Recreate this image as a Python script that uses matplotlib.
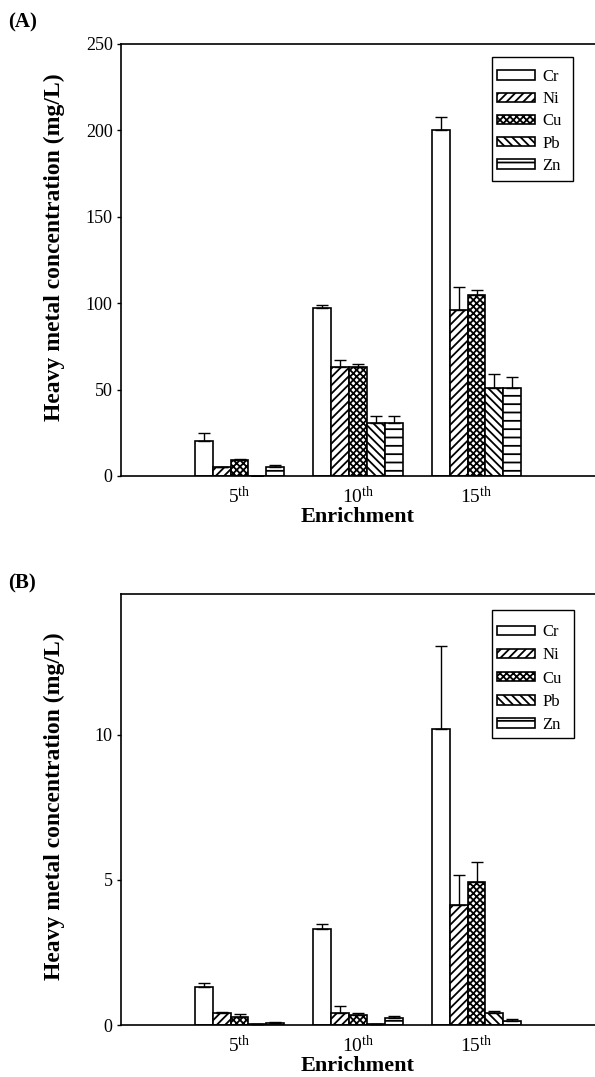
import matplotlib
matplotlib.use('Agg')
import matplotlib.pyplot as plt
from matplotlib.patches import Rectangle
import numpy as np

plt.rcParams['font.family'] = ['Liberation Serif', 'DejaVu Serif']
plt.rcParams['mathtext.fontset'] = 'custom'
plt.rcParams['mathtext.rm'] = 'Liberation Serif'
plt.rcParams['hatch.linewidth'] = 1.3

# ---------------- data ----------------
categories = ['5', '10', '15']          # enrichment number (superscript "th" added)
metals = ['Cr', 'Ni', 'Cu', 'Pb', 'Zn']

# Panel A
A_Cr = [20.5, 97.5, 200.0]
A_Ni = [5.0, 63.0, 96.0]
A_Cu = [9.5, 63.0, 105.0]
A_Pb = [0.0, 30.5, 51.0]
A_Zn = [5.0, 30.5, 51.0]
A_Cr_err = [4.5, 1.5, 8.0]
A_Ni_err = [0.0, 4.0, 13.5]
A_Cu_err = [0.5, 2.0, 2.5]
A_Pb_err = [0.0, 4.5, 8.0]
A_Zn_err = [1.5, 4.5, 6.5]

# Panel B
B_Cr = [1.32, 3.30, 10.2]
B_Ni = [0.41, 0.43, 4.15]
B_Cu = [0.29, 0.33, 4.92]
B_Pb = [0.02, 0.03, 0.41]
B_Zn = [0.07, 0.24, 0.14]
B_Cr_err = [0.14, 0.18, 2.85]
B_Ni_err = [0.04, 0.24, 1.02]
B_Cu_err = [0.08, 0.10, 0.70]
B_Pb_err = [0.0, 0.0, 0.07]
B_Zn_err = [0.02, 0.07, 0.06]

A_vals = [A_Cr, A_Ni, A_Cu, A_Pb, A_Zn]
A_errs = [A_Cr_err, A_Ni_err, A_Cu_err, A_Pb_err, A_Zn_err]
B_vals = [B_Cr, B_Ni, B_Cu, B_Pb, B_Zn]
B_errs = [B_Cr_err, B_Ni_err, B_Cu_err, B_Pb_err, B_Zn_err]

A_yticks = [0, 50, 100, 150, 200, 250]
B_yticks = [0, 5, 10]

hatches = ['', '////', 'xxxxx', '\\\\\\\\', '--']

W, H = 595, 1077
fig = plt.figure(figsize=(W / 100, H / 100), dpi=100)
axA = fig.add_axes([121 / W, (H - 476) / H, 474 / W, 432 / H])
axB = fig.add_axes([121 / W, (H - 1025) / H, 474 / W, 431 / H])


def draw(ax, vals, errs, ylim, yticks, ylab_y, box, leg_anchor, lspacing):
    x = np.arange(1, len(categories) + 1)
    w = 0.151
    for i, m in enumerate(metals):
        xi = x + (i - 2) * w
        ax.bar(xi, vals[i], w, color='white', edgecolor='black', linewidth=1.2,
               hatch=hatches[i], label=m, zorder=2)
        ax.errorbar(xi, vals[i], yerr=[np.zeros(len(x)), errs[i]], fmt='none',
                    ecolor='black', elinewidth=1.0, capsize=4, capthick=1.0, zorder=3)
    ax.set_xlim(0, 4)
    ax.set_ylim(*ylim)
    ax.set_yticks(yticks)
    ax.set_xticks(x)
    ax.set_xticklabels([r'$\mathregular{%s^{th}}$' % c for c in categories])
    ax.tick_params(axis='x', length=0, pad=7, labelsize=14)
    ax.tick_params(axis='y', length=3, width=1, pad=3, labelsize=13, direction='out')
    for s in ['left', 'bottom', 'top']:
        ax.spines[s].set_linewidth(1.2)
    ax.spines['right'].set_visible(False)
    ax.set_ylabel('Heavy metal concentration (mg/L)', fontsize=17, fontweight='bold')
    ax.yaxis.set_label_coords(-0.118, ylab_y)
    ax.set_xlabel('Enrichment', fontsize=16, fontweight='bold')
    ax.xaxis.set_label_coords(0.5, -0.072)
    ax.add_patch(Rectangle((box[0], box[1]), box[2] - box[0], box[3] - box[1],
                           transform=ax.transAxes, fill=False, lw=1.0,
                           edgecolor='black', zorder=4))
    ax.legend(loc='upper left', bbox_to_anchor=leg_anchor, borderaxespad=0,
              borderpad=0, frameon=False, fontsize=12, handlelength=2.3,
              handleheight=0.5, labelspacing=lspacing, handletextpad=0.45)


draw(axA, A_vals, A_errs, (0, 250), A_yticks, 0.53,
     (0.783, 0.683, 0.954, 0.970), (0.793, 0.942), 0.37)
draw(axB, B_vals, B_errs, (0, 14.86), B_yticks, 0.508,
     (0.783, 0.666, 0.956, 0.963), (0.793, 0.930), 0.43)

fig.text(8 / W, 1 - 22 / H, '(A)', fontsize=15, fontweight='bold', va='center', ha='left')
fig.text(8 / W, 1 - 583 / H, '(B)', fontsize=15, fontweight='bold', va='center', ha='left')

fig.savefig('out.png', dpi=100)
